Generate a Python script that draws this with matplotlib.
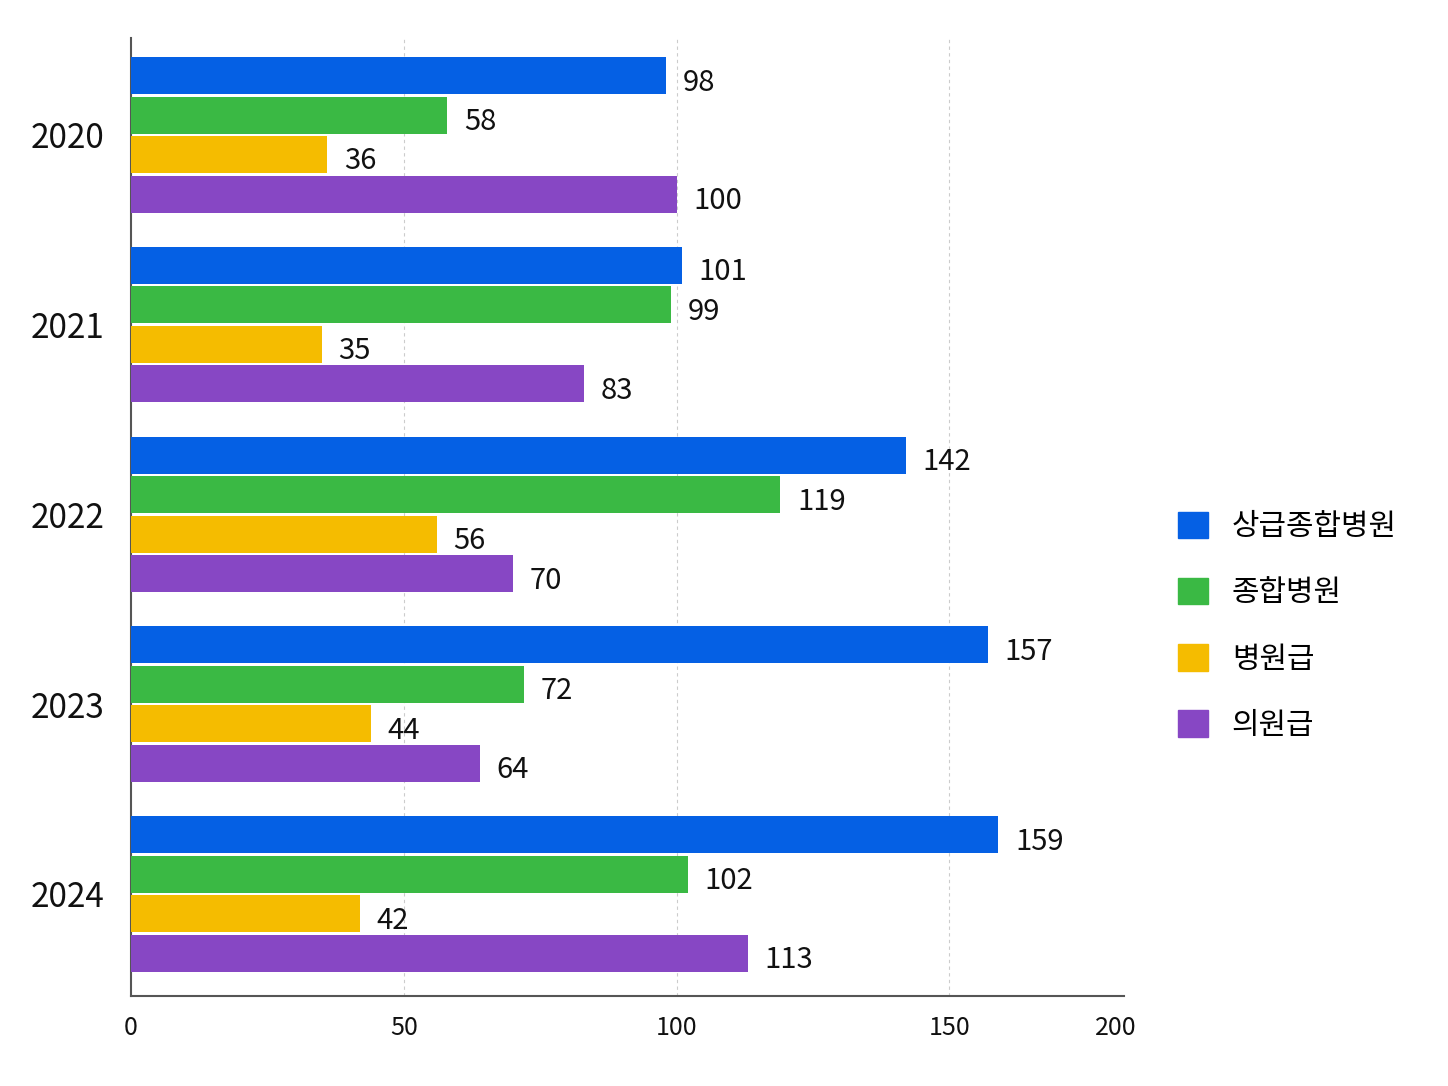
import numpy as np
import matplotlib.pyplot as plt
from matplotlib.patches import Patch

plt.rcParams['font.family'] = ['Noto Sans CJK KR', 'DejaVu Sans']

years = ["2020", "2021", "2022", "2023", "2024"]
series = ["상급종합병원", "종합병원", "병원급", "의원급"]
colors = ["#0560E4", "#3AB944", "#F5BC00", "#8747C4"]

tertiary = [98, 101, 142, 157, 159]
general = [58, 99, 119, 72, 102]
hospital = [36, 35, 56, 44, 42]
clinic = [100, 83, 70, 64, 113]
values = [tertiary, general, hospital, clinic]

xticks = [0, 50, 100, 150, 180.5]
xtick_labels = ["0", "50", "100", "150", "200"]

fig = plt.figure(figsize=(14.48, 10.86), dpi=100)
ax = fig.add_axes([0.0905, 0.083, 0.6857, 0.882])

y = np.arange(len(years))
step = 0.208
h = 0.195
for i, (vals, c) in enumerate(zip(values, colors)):
    pos = y + (i - 1.5) * step
    ax.barh(pos, vals, height=h, color=c, zorder=3)
    for p, v in zip(pos, vals):
        ax.annotate(str(v), (v, p), xytext=(12, -5), textcoords="offset points",
                    va="center", ha="left", fontsize=21, color="#111111")

for g in [50, 100, 150]:
    ax.axvline(g, color="#cccccc", lw=0.8, ls=(0, (3, 3)), zorder=1)

ax.set_xlim(0, 182)
ax.set_ylim(4.537, -0.51)
ax.set_yticks(y)
ax.set_yticklabels(years, fontsize=24, color="#111111")
ax.set_xticks(xticks)
ax.set_xticklabels(xtick_labels, fontsize=18, color="#111111")
ax.tick_params(axis="y", length=0, pad=19)
ax.tick_params(axis="x", length=0, pad=14)
ax.spines["top"].set_visible(False)
ax.spines["right"].set_visible(False)
ax.spines["left"].set_color("#555555")
ax.spines["bottom"].set_color("#555555")
ax.spines["left"].set_linewidth(1.5)
ax.spines["bottom"].set_linewidth(1.5)

handles = [Patch(color=c) for c in colors]
fig.legend(handles, series, loc="center left", bbox_to_anchor=(0.795, 0.4236),
           frameon=False, fontsize=21.5, handlelength=1.0, handleheight=1.0,
           handletextpad=0.8, labelspacing=1.18)

fig.savefig("out.png", dpi=100)
